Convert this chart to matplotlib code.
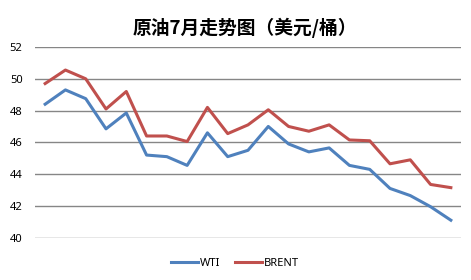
import matplotlib
matplotlib.use("Agg")
import matplotlib.pyplot as plt

plt.rcParams['font.family'] = ['Noto Sans CJK SC', 'DejaVu Sans']

title = "原油7月走势图（美元/桶）"
days = list(range(21))
wti = [48.4, 49.3, 48.75, 46.85, 47.85, 45.2, 45.1, 44.55, 46.6, 45.1, 45.5,
       47.0, 45.9, 45.4, 45.65, 44.55, 44.3, 43.1, 42.65, 41.95, 41.1]
brent = [49.7, 50.55, 50.0, 48.1, 49.2, 46.4, 46.4, 46.05, 48.2, 46.55, 47.1,
         48.05, 47.0, 46.7, 47.1, 46.15, 46.1, 44.65, 44.9, 43.35, 43.15]
yticks = [40, 42, 44, 46, 48, 50, 52]

fig = plt.figure(figsize=(4.71, 2.80), dpi=100)
ax = fig.add_axes([35/471, 1-237.7/280, 426/471, (237.7-47)/280])

ax.plot(days, wti, color='#4F81BD', lw=2.2, label='WTI', solid_joinstyle='round')
ax.plot(days, brent, color='#C0504D', lw=2.2, label='BRENT', solid_joinstyle='round')

ax.set_xlim(-0.5, 20.5)
ax.set_ylim(40, 52)
ax.set_yticks(yticks)
ax.set_yticklabels([str(t) for t in yticks], fontsize=8, family=['Noto Sans', 'DejaVu Sans'])
ax.set_xticks([])
ax.tick_params(axis='y', length=0, pad=9)
ax.grid(axis='y', color='#868686', lw=1)
ax.set_axisbelow(True)
for s in ax.spines.values():
    s.set_visible(False)

fig.text(245/471, 1-27.5/280, title, ha='center', va='center', fontsize=13.5, fontweight='bold')

leg = fig.legend(loc='center', bbox_to_anchor=(235/471, 1-263/280), ncol=2, frameon=False,
                 handlelength=2.4, handletextpad=0.2, columnspacing=1.3,
                 prop={'family': ['Noto Sans', 'DejaVu Sans'], 'size': 8})

fig.savefig('out.png', dpi=100)
